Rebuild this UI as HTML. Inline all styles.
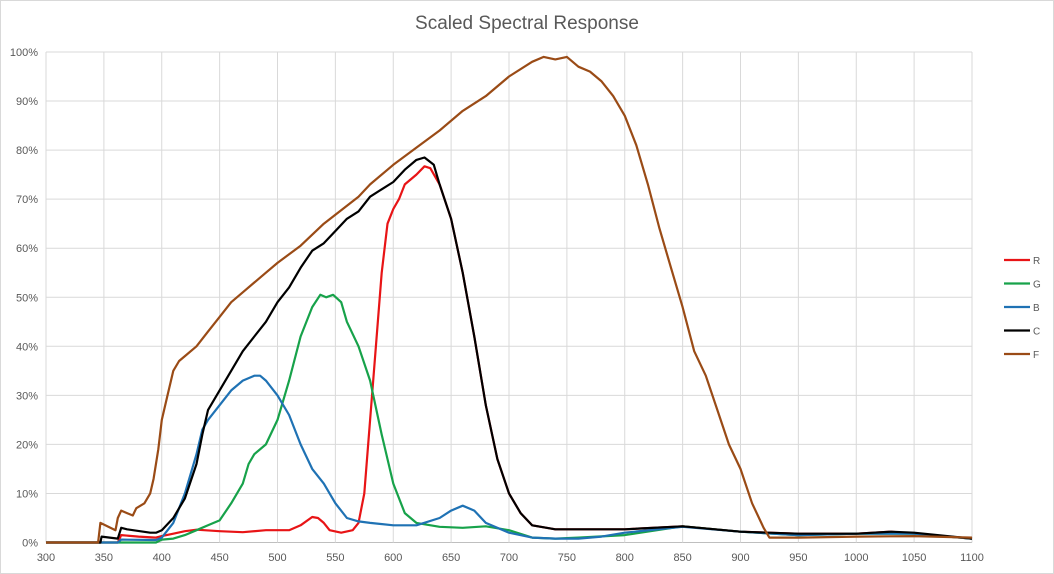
<!DOCTYPE html>
<html><head><meta charset="utf-8"><style>
html,body{margin:0;padding:0;background:#fff}
svg{display:block;font-family:"Liberation Sans",sans-serif}
</style></head><body>
<svg id="chart" width="1054" height="574">
<rect x="0.5" y="0.5" width="1053" height="573" fill="#fff" stroke="#d9d9d9"/>
<text x="527" y="29" text-anchor="middle" font-size="19" fill="#595959">Scaled Spectral Response</text>
<g id="grid"></g><g id="axes"></g><g id="series"></g><g id="legend"></g>
</svg>
<script>
const xTicks=[300,350,400,450,500,550,600,650,700,750,800,850,900,950,1000,1050,1100];
const yTicks=[0,10,20,30,40,50,60,70,80,90,100];
const seriesNames=["R","G","B","C","F"];
const seriesColors=["#e81416","#17a24a","#1f72b4","#000000","#9a4b16"];
const rData=[[300,0],[362,0],[365,1.5],[380,1.2],[395,1],[400,1.3],[410,1.8],[420,2.3],[430,2.6],[450,2.3],[470,2.1],[490,2.5],[510,2.5],[520,3.5],[530,5.2],[535,5],[540,4],[545,2.5],[555,2],[565,2.5],[570,4],[575,10],[580,25],[585,40],[590,55],[595,65],[600,68],[605,70],[610,73],[620,75],[627,76.7],[632,76.3],[640,73],[650,66],[660,55],[670,42],[680,28],[690,17],[700,10],[710,6],[720,3.5],[740,2.7],[800,2.7],[850,3.3],[900,2.2],[950,1.8],[1000,1.8],[1030,2.2],[1100,0.8]];
const gData=[[300,0],[395,0],[400,0.6],[410,0.8],[420,1.5],[430,2.5],[440,3.5],[450,4.5],[460,8],[470,12],[475,16],[480,18],[490,20],[500,25],[510,33],[520,42],[530,48],[537,50.5],[542,50],[548,50.5],[555,49],[560,45],[570,40],[580,33],[590,22],[600,12],[610,6],[620,4],[640,3.2],[660,3],[680,3.3],[700,2.5],[720,1],[740,0.8],[760,1],[800,1.5],[850,3.3],[900,2.2],[950,1.5],[1000,1.8],[1050,1.8],[1100,0.8]];
const bData=[[300,0],[362,0],[365,0.6],[395,0.5],[400,1],[410,4],[420,10],[430,18],[435,23],[440,25],[450,28],[460,31],[470,33],[480,34],[485,34],[490,33],[500,30],[510,26],[520,20],[530,15],[540,12],[550,8],[560,5],[570,4.3],[580,4],[600,3.5],[620,3.5],[640,5],[650,6.5],[660,7.5],[670,6.5],[680,4],[700,2],[720,1],[740,0.8],[760,0.8],[780,1.2],[800,2],[850,3.2],[900,2.2],[950,1.5],[1000,1.8],[1050,1.8],[1100,0.8]];
const cData=[[300,0],[347,0],[348,1.2],[362,0.8],[365,3],[370,2.7],[390,2],[395,2],[400,2.5],[410,5],[420,9],[430,16],[435,22],[440,27],[450,31],[460,35],[470,39],[480,42],[490,45],[500,49],[510,52],[520,56],[530,59.5],[540,61],[550,63.5],[560,66],[570,67.5],[580,70.5],[590,72],[600,73.5],[610,76],[620,78],[627,78.5],[635,77],[640,73],[650,66],[660,55],[670,42],[680,28],[690,17],[700,10],[710,6],[720,3.5],[740,2.7],[760,2.7],[800,2.7],[850,3.3],[900,2.2],[950,1.8],[1000,1.8],[1030,2.2],[1050,2],[1100,0.8]];
const fData=[[300,0],[345,0],[347,4],[360,2.5],[362,5],[365,6.5],[370,6],[375,5.5],[378,7],[385,8],[390,10],[393,13],[397,19],[400,25],[405,30],[410,35],[415,37],[420,38],[430,40],[440,43],[450,46],[460,49],[470,51],[480,53],[490,55],[500,57],[520,60.5],[540,65],[570,70.5],[580,73],[600,77],[620,80.5],[640,84],[660,88],[680,91],[700,95],[720,98],[730,99],[740,98.5],[750,99],[760,97],[770,96],[780,94],[790,91],[800,87],[810,81],[820,73],[830,64],[840,56],[850,48],[860,39],[870,34],[880,27],[890,20],[900,15],[910,8],[920,3],[925,1],[950,1],[1000,1.2],[1050,1.3],[1100,1]];
const allData=[rData,gData,bData,cData,fData];
const NS="http://www.w3.org/2000/svg";
const X=v=>46+(v-300)*(926/800);
const Y=v=>542.5-v*4.905;
function mk(t,a,p){const e=document.createElementNS(NS,t);for(const k in a)e.setAttribute(k,a[k]);p.appendChild(e);return e;}
const grid=document.getElementById('grid'),axes=document.getElementById('axes'),ser=document.getElementById('series'),leg=document.getElementById('legend');
yTicks.forEach(t=>{
 const l=mk('line',{x1:X(300),x2:X(1100),y1:Y(t),y2:Y(t),stroke:t===0?'#bfbfbf':'#d9d9d9','stroke-width':1},grid);
 
 
 const tx=mk('text',{x:38,y:Y(t)+4,'text-anchor':'end','font-size':11,fill:'#595959'},axes);
 tx.textContent=t+'%';
 
 
});
xTicks.forEach(t=>{
 const l=mk('line',{x1:X(t),x2:X(t),y1:Y(100),y2:Y(0),stroke:'#d9d9d9','stroke-width':1},grid);
 
 
 const tx=mk('text',{x:X(t),y:561,'text-anchor':'middle','font-size':11,fill:'#595959'},axes);
 tx.textContent=t;
 
 
});
allData.forEach((d,i)=>{
 const p=mk('polyline',{points:d.map(q=>X(q[0]).toFixed(1)+','+Y(q[1]).toFixed(1)).join(' '),fill:'none',stroke:seriesColors[i],'stroke-width':2.2,'stroke-linejoin':'round'},ser);
 
 
 const ly=260+i*23.5;
 const g=mk('g',{},leg);
 
 
 mk('line',{x1:1004,x2:1030,y1:ly,y2:ly,stroke:seriesColors[i],'stroke-width':2.2},g);
 const t=mk('text',{x:1033,y:ly+4,'font-size':10,fill:'#595959'},g);
 t.textContent=seriesNames[i];
});
</script>
</body></html>
